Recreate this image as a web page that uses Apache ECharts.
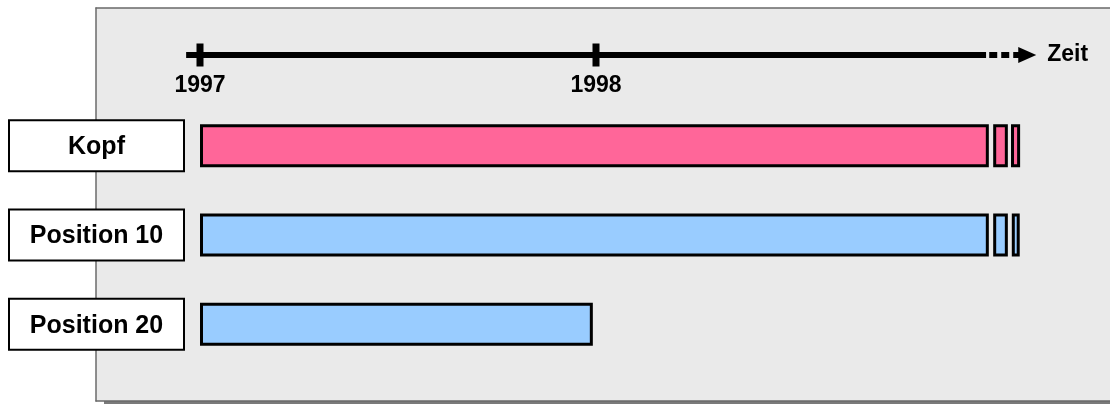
<!DOCTYPE html>
<html><head><meta charset="utf-8">
<script src="https://cdn.jsdelivr.net/npm/echarts@6/dist/echarts.min.js"></script>
<style>html,body{margin:0;padding:0;background:#fff}#c{width:1110px;height:404px}</style>
</head><body><div id="c"></div>
<script>
// ---- data ----
const categories = ['Kopf', 'Position 10', 'Position 20'];
const kopfSegments = [[1997, 1998.992], [1999.003, 1999.040], [1999.048, 1999.071]];
const pos10Segments = [[1997, 1998.992], [1999.003, 1999.040], [1999.050, 1999.070]];
const pos20Segments = [[1997, 1997.992]];
const tickYears = [1997, 1998];
const timelineSolid = [1996.965, 1998.985];
const timelineDotted = [1998.993, 1999.089];
const timeAxisName = 'Zeit';

// ---- build ----
const FONT = 'Liberation Sans, Arial, sans-serif';
const barRows = [kopfSegments, pos10Segments, pos20Segments];
const barColors = ['#ff6699', '#99ccff', '#99ccff'];
const barData = [];
barRows.forEach((segs, r) => segs.forEach(s => barData.push([s[0], s[1], r])));

// shared horizontal scale: 1997 -> x=200px, 1999 -> x=992px
const X0 = 200, X1 = 992, V0 = 1997, V1 = 1999;
const pxPerYear = (X1 - X0) / (V1 - V0);
const tMin = 1996.9, tMax = 1999.2;
const tLeft = X0 - (V0 - tMin) * pxPerYear;
const tRight = 1110 - (X1 + (tMax - V1) * pxPerYear);

const frameLine = {show: true, onZero: false, lineStyle: {color: '#6a6a6a', width: 1.5}};
const frameAxis = (pos) => ({gridIndex: 1, type: 'value', position: pos, min: 0, max: 1,
  axisLine: frameLine, axisTick: {show: false}, axisLabel: {show: false}, splitLine: {show: false}});

const chart = echarts.init(document.getElementById('c'), null, {renderer: 'canvas'});
chart.setOption({
  animation: false,
  grid: [
    // drop shadow of the panel
    {left: 104, top: 14, right: 0, bottom: 0, show: true, backgroundColor: '#7a7a7a', borderWidth: 0},
    // grey panel
    {left: 96, top: 8, right: 0, bottom: 3, show: true, backgroundColor: '#eaeaea', borderWidth: 0},
    {left: X0, right: 1110 - X1, top: 101, height: 268},
    {left: tLeft, right: tRight, top: 45, height: 20}
  ],
  xAxis: [
    {gridIndex: 0, type: 'value', show: false},
    frameAxis('top'),
    {gridIndex: 2, type: 'value', min: V0, max: V1, show: false},
    {gridIndex: 3, type: 'value', min: tMin, max: tMax,
     axisLine: {show: false}, axisTick: {show: false}, splitLine: {show: false},
     axisLabel: {customValues: tickYears, margin: 9, fontSize: 23, fontWeight: 'bold', fontFamily: FONT,
       color: '#000', formatter: v => String(v)}},
    frameAxis('bottom')
  ],
  yAxis: [
    {gridIndex: 0, type: 'value', show: false},
    frameAxis('left'),
    {gridIndex: 2, type: 'category', data: categories, inverse: true, z: 5,
     axisLine: {show: false}, axisTick: {show: false}, splitLine: {show: false},
     axisLabel: {margin: 17, formatter: v => '{b|' + v + '}',
       rich: {b: {width: 173, height: 46, padding: [3, 0, 0, 0], align: 'center', verticalAlign: 'middle',
         backgroundColor: '#fff', borderColor: '#000', borderWidth: 2,
         fontSize: 25, fontWeight: 'bold', fontFamily: FONT, color: '#000'}}}},
    {gridIndex: 3, type: 'value', min: -1, max: 1, show: false}
  ],
  series: [
    {type: 'custom', xAxisIndex: 2, yAxisIndex: 2, data: barData, encode: {x: [0, 1], y: 2}, clip: false,
     renderItem(params, api) {
       const r = api.value(2);
       const s = api.coord([api.value(0), r]);
       const e = api.coord([api.value(1), r]);
       const h = 40, lw = 3;
       return {type: 'rect',
         shape: {x: s[0] + lw / 2, y: s[1] - h / 2, width: e[0] - s[0] - lw, height: h},
         style: {fill: barColors[r], stroke: '#000', lineWidth: lw}};
     }},
    {type: 'line', xAxisIndex: 3, yAxisIndex: 3, symbol: 'none', silent: true,
     data: timelineSolid.map(x => [x, 0]), lineStyle: {color: '#000', width: 6}},
    {type: 'line', xAxisIndex: 3, yAxisIndex: 3, silent: true, showSymbol: true,
     data: timelineDotted.map(x => [x, 0]),
     symbol: (v, p) => p.dataIndex === timelineDotted.length - 1 ? 'triangle' : 'none',
     symbolSize: [16, 18], symbolRotate: -90, itemStyle: {color: '#000', opacity: 1},
     lineStyle: {color: '#000', width: 6, type: [8, 4]},
     endLabel: {show: true, formatter: timeAxisName, distance: 20, fontSize: 23, fontWeight: 'bold',
       fontFamily: FONT, color: '#000'}},
    {type: 'scatter', xAxisIndex: 3, yAxisIndex: 3, silent: true, z: 3,
     data: tickYears.map(x => [x, 0]), symbol: 'rect', symbolSize: [7, 23],
     itemStyle: {color: '#000', opacity: 1}}
  ]
});
</script></body></html>
